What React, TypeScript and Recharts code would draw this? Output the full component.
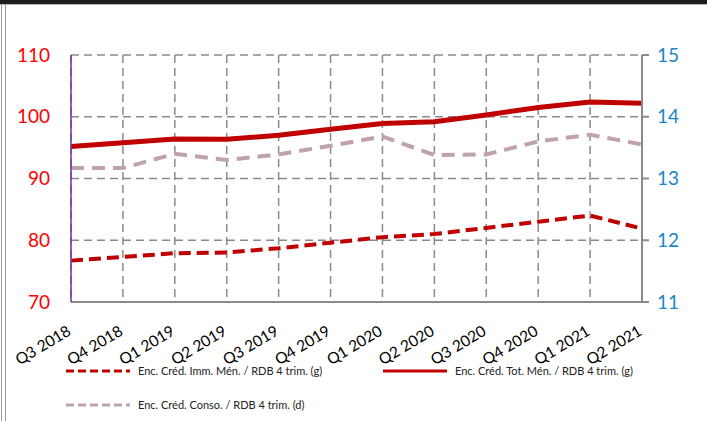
import React from 'react';
import { LineChart, Line, XAxis, YAxis, CartesianGrid } from 'recharts';

const quarters = ['Q3 2018', 'Q4 2018', 'Q1 2019', 'Q2 2019', 'Q3 2019', 'Q4 2019', 'Q1 2020', 'Q2 2020', 'Q3 2020', 'Q4 2020', 'Q1 2021', 'Q2 2021'];
const immMen = [76.7, 77.3, 77.9, 78.0, 78.7, 79.6, 80.5, 81.0, 82.0, 83.0, 84.0, 81.9];
const totMen = [95.2, 95.8, 96.4, 96.35, 97.0, 97.97, 98.9, 99.2, 100.3, 101.5, 102.4, 102.2];
const conso = [13.17, 13.17, 13.4, 13.3, 13.39, 13.53, 13.68, 13.38, 13.39, 13.6, 13.71, 13.55];
const leftTicks = [70, 80, 90, 100, 110];
const rightTicks = [11, 12, 13, 14, 15];

const labelImm = 'Enc. Créd. Imm. Mén. / RDB 4 trim. (g)';
const labelTot = 'Enc. Créd. Tot. Mén. / RDB 4 trim. (g)';
const labelConso = 'Enc. Créd. Conso. / RDB 4 trim. (d)';

const data = quarters.map((q, i) => ({ q, imm: immMen[i], tot: totMen[i], conso: conso[i] }));

const FONT = 'Lato, "Open Sans", sans-serif';

const XTick = (props: any) => {
  const { x, y, payload } = props;
  const tx = x + 1;
  const ty = y + 32;
  return (
    <text x={tx} y={ty} transform={`rotate(-31 ${tx} ${ty})`} textAnchor="end" fontSize={15.5} fill="#000" fontFamily={FONT}>
      {payload.value}
    </text>
  );
};

const LegendItem = ({ left, top, color, dash, width, label }: any) => (
  <div style={{ position: 'absolute', left, top, display: 'flex', alignItems: 'center' }}>
    <svg width={66} height={8} style={{ display: 'block' }}>
      <line x1={0} y1={4} x2={64} y2={4} stroke={color} strokeWidth={width} strokeDasharray={dash} />
    </svg>
    <span style={{ fontFamily: FONT, fontSize: 11, color: '#222', marginLeft: 6, whiteSpace: 'nowrap' }}>{label}</span>
  </div>
);

export default function App() {
  return (
    <div style={{ position: 'absolute', left: 0, top: 0, width: 707, height: 421, background: '#fff', overflow: 'hidden' }}>
      <div style={{ position: 'absolute', left: 0, top: 0, width: 707, height: 4, background: '#1e1e1e' }} />
      <div style={{ position: 'absolute', left: 0, top: 4, width: 707, height: 1, background: '#b5b5b5' }} />
      <div style={{ position: 'absolute', left: 1, top: 4, width: 1, height: 417, background: '#9a9a9a' }} />
      <div style={{ position: 'absolute', left: 5, top: 4, width: 1, height: 417, background: '#9a9a9a' }} />
      <div style={{ position: 'absolute', left: 0, top: 0 }}>
        <LineChart width={707} height={421} data={data} margin={{ top: 55, right: 0, left: 0, bottom: 0 }}>
          <CartesianGrid yAxisId="left" stroke="#8a8a8a" strokeWidth={1.5} strokeDasharray="8 5" />
          <XAxis
            dataKey="q"
            interval={0}
            height={119}
            tickLine={false}
            tickSize={0}
            tickMargin={0}
            axisLine={{ stroke: '#8a8a8a', strokeWidth: 2 }}
            tick={<XTick />}
          />
          <YAxis
            yAxisId="left"
            orientation="left"
            width={71}
            domain={[70, 110]}
            ticks={leftTicks}
            interval={0}
            tickLine={false}
            tickSize={0}
            tickMargin={21}
            axisLine={{ stroke: '#7030A0', strokeWidth: 1.5 }}
            tick={{ fill: '#FF0000', fontSize: 19, fontFamily: FONT }}
          />
          <YAxis
            yAxisId="right"
            orientation="right"
            width={65}
            domain={[11, 15]}
            ticks={rightTicks}
            interval={0}
            tickLine={{ stroke: '#8a8a8a', strokeWidth: 2 }}
            tickSize={7}
            tickMargin={8}
            axisLine={{ stroke: '#8a8a8a', strokeWidth: 2 }}
            tick={{ fill: '#1A86C8', fontSize: 19, fontFamily: FONT, textAnchor: 'start' }}
          />
          <Line yAxisId="right" type="linear" dataKey="conso" stroke="#BFA2AB" strokeWidth={4} strokeDasharray="13 8" dot={false} isAnimationActive={false} />
          <Line yAxisId="left" type="linear" dataKey="imm" stroke="#C00000" strokeWidth={4} strokeDasharray="12 6" dot={false} isAnimationActive={false} />
          <Line yAxisId="left" type="linear" dataKey="tot" stroke="#C00000" strokeWidth={5} dot={false} isAnimationActive={false} />
        </LineChart>
      </div>
      <LegendItem left={66} top={364} color="#C00000" dash="8 4" width={3} label={labelImm} />
      <LegendItem left={383} top={364} color="#C00000" width={3} label={labelTot} />
      <LegendItem left={66} top={398} color="#BFA2AB" dash="8 4" width={3} label={labelConso} />
    </div>
  );
}
